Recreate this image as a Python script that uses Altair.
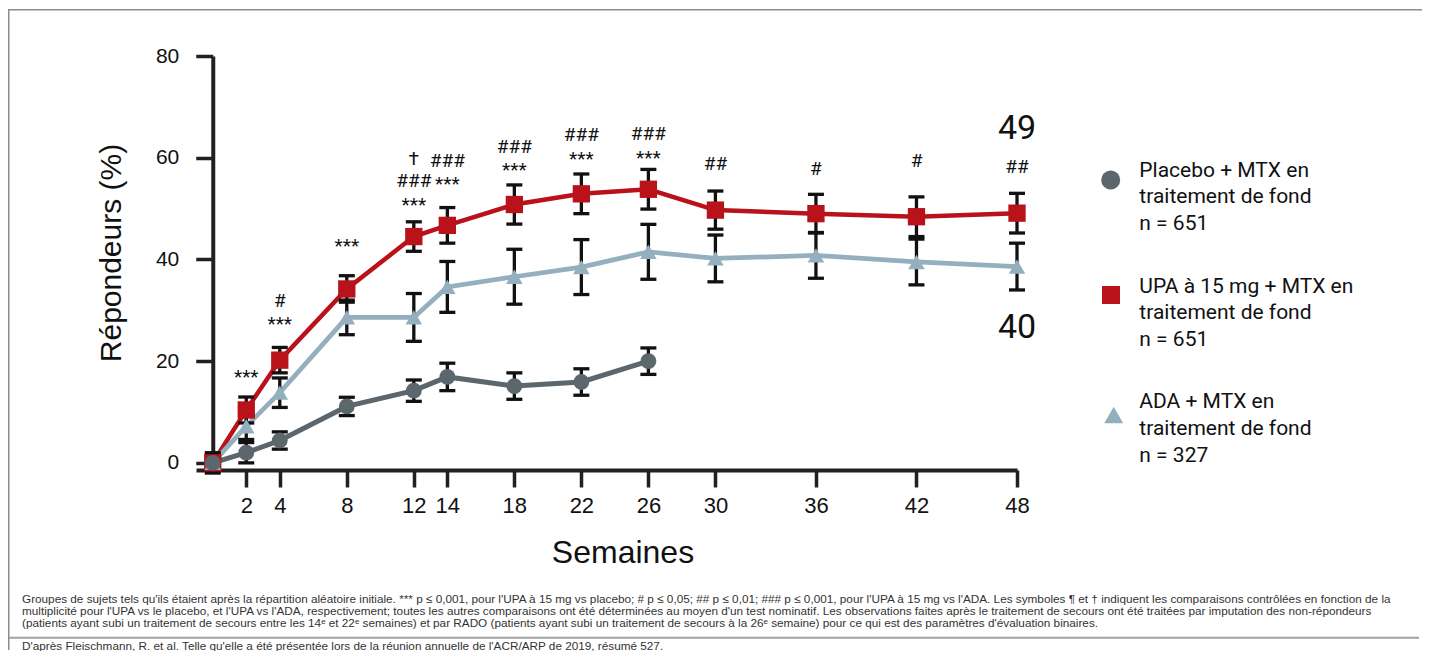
import altair as alt
import pandas as pd

# ---------------- data ----------------
weeks = [0, 2, 4, 8, 12, 14, 18, 22, 26, 30, 36, 42, 48]
placebo_weeks = [0, 2, 4, 8, 12, 14, 18, 22, 26]

placebo_val = [0.0, 2.0, 4.4, 11.1, 14.2, 16.9, 15.1, 15.9, 20.0]
placebo_err = [2.0, 2.0, 1.7, 1.8, 2.1, 2.7, 2.6, 2.6, 2.6]

upa_val = [0.0, 10.4, 20.2, 34.2, 44.5, 46.7, 50.8, 52.9, 53.8, 49.7, 49.0, 48.4, 49.1]
upa_err = [1.5, 2.55, 2.5, 2.6, 2.9, 3.5, 3.85, 3.9, 3.9, 3.75, 3.8, 3.9, 3.9]

ada_val = [0.0, 7.2, 13.8, 28.6, 28.6, 34.6, 36.6, 38.5, 41.5, 40.2, 40.8, 39.5, 38.6]
ada_err = [1.5, 2.6, 2.9, 3.4, 4.7, 5.0, 5.4, 5.4, 5.4, 4.6, 4.5, 4.5, 4.6]

series_names = ["Placebo", "ADA", "UPA"]
series_colors = ["#5b666d", "#94afbd", "#b9121b"]
series_shapes = ["circle", "triangle-up", "square"]
series_sizes = [250, 300, 256]
series_widths = [5, 4.5, 6]

x_ticks = [2, 4, 8, 12, 14, 18, 22, 26, 30, 36, 42, 48]
y_ticks = [0, 20, 40, 60, 80]

ann_week = [2, 4, 4, 8, 12, 12, 12, 14, 14, 18, 18, 22, 22, 26, 26, 30, 36, 42, 48]
ann_text = ["***", "#", "***", "***", "\u2020", "###", "***", "###", "***", "###", "***",
            "###", "***", "###", "***", "##", "#", "#", "##"]
ann_y = [15.7, 30.7, 26.1, 41.5, 58.6, 54.3, 49.5, 58.1, 53.7, 61.0, 56.4,
         63.2, 58.6, 63.4, 58.8, 57.5, 56.6, 58.2, 56.9]

end_text = ["49", "40"]
end_y = [63.6, 24.6]

legend_lines = [
    ["Placebo + MTX en", "traitement de fond", "n = 651"],
    ["UPA \u00e0 15 mg + MTX en", "traitement de fond", "n = 651"],
    ["ADA + MTX en", "traitement de fond", "n = 327"],
]

foot_lines = [
    "Groupes de sujets tels qu'ils \u00e9taient apr\u00e8s la r\u00e9partition al\u00e9atoire initiale. *** p \u2264 0,001, pour l'UPA \u00e0 15 mg vs placebo; # p \u2264 0,05; ## p \u2264 0,01; ### p \u2264 0,001, pour l'UPA \u00e0 15 mg vs l'ADA. Les symboles \u00b6 et \u2020 indiquent les comparaisons contr\u00f4l\u00e9es en fonction de la",
    "multiplicit\u00e9 pour l'UPA vs le placebo, et l'UPA vs l'ADA, respectivement; toutes les autres comparaisons ont \u00e9t\u00e9 d\u00e9termin\u00e9es au moyen d'un test nominatif. Les observations faites apr\u00e8s le traitement de secours ont \u00e9t\u00e9 trait\u00e9es par imputation des non-r\u00e9pondeurs",
    "(patients ayant subi un traitement de secours entre les 14\u1d49 et 22\u1d49 semaines) et par RADO (patients ayant subi un traitement de secours \u00e0 la 26\u1d49 semaine) pour ce qui est des param\u00e8tres d'\u00e9valuation binaires.",
]
source_line = "D'apr\u00e8s Fleischmann, R. et al. Telle qu'elle a \u00e9t\u00e9 pr\u00e9sent\u00e9e lors de la r\u00e9union annuelle de l'ACR/ARP de 2019, r\u00e9sum\u00e9 527."

# ---------------- tables ----------------
rows = []
for w, v, e in zip(weeks, upa_val, upa_err):
    rows.append({"series": "UPA", "order": 0, "week": w, "value": v, "lo": v - e, "hi": v + e})
for w, v, e in zip(weeks, ada_val, ada_err):
    rows.append({"series": "ADA", "order": 1, "week": w, "value": v, "lo": v - e, "hi": v + e})
for w, v, e in zip(placebo_weeks, placebo_val, placebo_err):
    rows.append({"series": "Placebo", "order": 2, "week": w, "value": v, "lo": v - e, "hi": v + e})
df = pd.DataFrame(rows)

ann_df = pd.DataFrame({"week": ann_week, "text": ann_text, "y": ann_y})
end_df = pd.DataFrame({"week": [48, 48], "text": end_text, "y": end_y})

PW, PH = 821, 414
xs = alt.Scale(domain=[-1, 48], nice=False, zero=False)
ys = alt.Scale(domain=[-1.4, 80], nice=False, zero=False)

color = alt.Color("series:N", scale=alt.Scale(domain=series_names, range=series_colors), legend=None)
shape = alt.Shape("series:N", scale=alt.Scale(domain=series_names, range=series_shapes), legend=None)
size = alt.Size("series:N", scale=alt.Scale(domain=series_names, range=series_sizes), legend=None)
swidth = alt.StrokeWidth("series:N", scale=alt.Scale(domain=series_names, range=series_widths), legend=None)

base = alt.Chart(df)

x_enc = alt.X("week:Q", scale=xs,
              axis=alt.Axis(values=x_ticks, title=None, grid=False, domain=True, domainWidth=4,
                            domainColor="#231f20", tickSize=17, tickWidth=3.5, tickColor="#231f20",
                            labelFont="Liberation Sans", labelFontSize=22, labelColor="#111",
                            labelPadding=8, labelFlush=False))
y_enc = alt.Y("value:Q", scale=ys,
              axis=alt.Axis(values=y_ticks, title=None, grid=False, domain=True, domainWidth=4,
                            domainColor="#231f20", tickSize=17, tickWidth=3.5, tickColor="#231f20",
                            labelFont="Liberation Sans", labelFontSize=21, labelColor="#111",
                            labelPadding=17, offset=-16.755, labelFlush=False))

err_rule = base.mark_rule(color="#111", strokeWidth=3.3).encode(
    x=alt.X("week:Q", scale=xs), y=alt.Y("lo:Q", scale=ys), y2="hi:Q")
cap_lo = base.mark_rule(color="#111", strokeWidth=3.3, xOffset=-8, x2Offset=8).encode(
    x=alt.X("week:Q", scale=xs), x2="week:Q", y=alt.Y("lo:Q", scale=ys))
cap_hi = base.mark_rule(color="#111", strokeWidth=3.3, xOffset=-8, x2Offset=8).encode(
    x=alt.X("week:Q", scale=xs), x2="week:Q", y=alt.Y("hi:Q", scale=ys))

lines = base.mark_line().encode(x=x_enc, y=y_enc, color=color, strokeWidth=swidth,
                                detail="series:N", order="week:Q")
points = base.mark_point(filled=True, opacity=1).encode(
    x=alt.X("week:Q", scale=xs), y=alt.Y("value:Q", scale=ys),
    color=color, shape=shape, size=size, order="order:Q")

ann = alt.Chart(ann_df).mark_text(font="Roboto", fontSize=19, color="#111",
                                  baseline="alphabetic", align="center").encode(
    x=alt.X("week:Q", scale=xs), y=alt.Y("y:Q", scale=ys), text="text:N")
ends = alt.Chart(end_df).mark_text(font="Roboto", fontSize=34, color="#111",
                                   baseline="alphabetic", align="center").encode(
    x=alt.X("week:Q", scale=xs), y=alt.Y("y:Q", scale=ys), text="text:N")

one = pd.DataFrame({"k": [0]})


def txt(lines_, x, y, **kw):
    return alt.Chart(one).mark_text(align=kw.pop("align", "left"), baseline=kw.pop("baseline", "alphabetic"),
                                    **kw).encode(x=alt.value(x), y=alt.value(y), text=alt.value(lines_))


def band(x1, x2, y1, y2, col):
    return alt.Chart(one).mark_rect(color=col, opacity=1).encode(
        x=alt.value(x1), x2=alt.value(x2), y=alt.value(y1), y2=alt.value(y2))


def sym(x, y, shp, sz, col):
    return alt.Chart(one).mark_point(shape=shp, size=sz, filled=True, opacity=1, color=col).encode(
        x=alt.value(x), y=alt.value(y))


ytitle = txt("R\u00e9pondeurs (%)", -84, 197, align="center", baseline="middle", angle=270,
             font="Liberation Sans", fontSize=30, color="#111")
xtitle = txt("Semaines", 427, 497, align="center", baseline="middle",
             font="Liberation Sans", fontSize=32, color="#111")

leg_font = dict(font="Roboto", fontSize=21, color="#111", lineHeight=26.7)
legend = [
    sym(914.7, 124, "circle", 361, series_colors[0]),
    txt(legend_lines[0], 943.3, 120.7, **leg_font),
    sym(915, 239, "square", 324, series_colors[2]),
    txt(legend_lines[1], 943.3, 236.7, **leg_font),
    sym(917.7, 359, "triangle-up", 361, series_colors[1]),
    txt(legend_lines[2], 943.3, 352.3, **leg_font),
]

foot = txt(foot_lines, -174, 546.5, font="Liberation Sans", fontSize=11.75, color="#333", lineHeight=12.3)
src = txt(source_line, -174, 593.5, font="Liberation Sans", fontSize=11.75, color="#333")

# outer frame (top and left edges) and footnote separator, as thin filled bands
frame = [
    band(-188, 1226, -47, -45.5, "#8c8c8c"),
    band(-188, -186.5, -47, 594, "#8c8c8c"),
    band(-187, 1223, 580.7, 582.7, "#a0a0a0"),
]

chart = alt.layer(
    lines, err_rule, cap_lo, cap_hi, points, ann, ends,
    ytitle, xtitle, *legend, foot, src, *frame
).properties(
    width=PW, height=PH,
    autosize=alt.AutoSizeParams(type="none"),
    padding={"left": 188, "top": 48, "right": 411, "bottom": 181},
).configure_view(stroke=None)

chart.save("out.html", embed_options={"renderer": "svg", "actions": False})
